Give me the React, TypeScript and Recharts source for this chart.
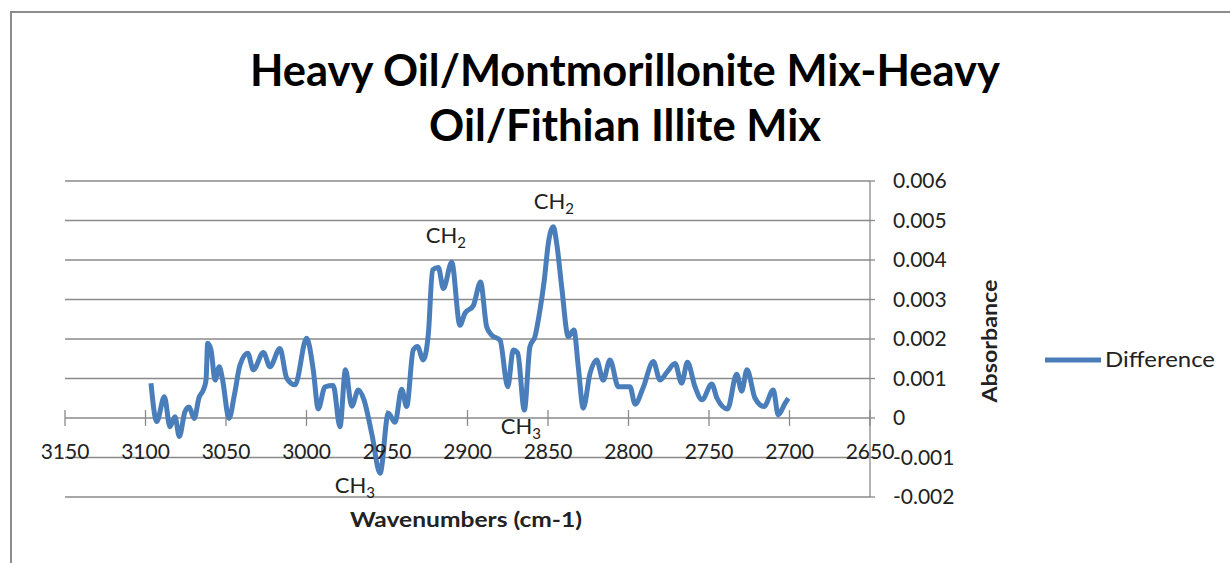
import React from "react";
import {
  LineChart,
  Line,
  XAxis,
  YAxis,
  CartesianGrid,
  ReferenceLine,
  ReferenceDot,
} from "recharts";

const wavenumbers = [
  3096.6, 3093.0, 3088.3, 3084.8, 3081.7, 3079.0, 3075.5, 3073.0, 3069.7, 3066.8,
  3064.1, 3062.4, 3061.4, 3059.3, 3056.8, 3054.2, 3052.3, 3048.1, 3044.8, 3041.3,
  3036.5, 3033.0, 3026.8, 3022.7, 3016.5, 3012.3, 3007.1, 2999.9, 2995.8, 2992.7,
  2988.5, 2983.4, 2979.2, 2975.8, 2971.9, 2967.8, 2964.3, 2959.3, 2954.3, 2949.2,
  2945.0, 2940.9, 2937.8, 2933.7, 2931.1, 2927.5, 2924.3, 2921.7, 2918.1, 2915.0,
  2909.8, 2904.7, 2901.6, 2896.4, 2891.9, 2888.1, 2885.0, 2879.8, 2875.0, 2871.6,
  2868.8, 2864.7, 2861.2, 2858.1, 2855.0, 2852.3, 2849.8, 2846.7, 2844.6, 2841.5,
  2837.4, 2833.9, 2831.2, 2828.1, 2823.9, 2819.8, 2815.7, 2811.5, 2806.3, 2799.1,
  2795.9, 2790.8, 2784.6, 2780.4, 2776.1, 2771.1, 2767.0, 2763.4, 2758.7, 2754.3,
  2748.3, 2745.0, 2738.5, 2732.8, 2729.7, 2726.4, 2721.4, 2715.8, 2710.1, 2707.0,
  2702.8, 2700.7,
];

const difference = [
  0.00088, -0.00009, 0.00054, -0.00022, 0.00003, -0.00047, 0.00016, 0.00028, -0.00001, 0.00051,
  0.00071, 0.00096, 0.00189, 0.00172, 0.00096, 0.0013, 0.00101, -0.00001, 0.00058, 0.00134,
  0.00164, 0.00122, 0.00166, 0.0013, 0.00176, 0.00101, 0.00084, 0.00202, 0.00122, 0.00023,
  0.00079, 0.00082, -0.00022, 0.00122, 0.0003, 0.00071, 0.00046, -0.00043, -0.0014, 0.00012,
  -0.00011, 0.00073, 0.00029, 0.00172, 0.00181, 0.00147, 0.00214, 0.00375, 0.00381, 0.00328,
  0.00394, 0.00235, 0.00265, 0.00284, 0.00344, 0.00231, 0.0021, 0.00197, 0.00079, 0.00172,
  0.00164, 0.0002, 0.00181, 0.00206, 0.00273, 0.00349, 0.00442, 0.00484, 0.00442, 0.00332,
  0.00206, 0.00223, 0.0013, 0.00025, 0.00113, 0.00147, 0.00096, 0.00147, 0.00079, 0.00079,
  0.00035, 0.00078, 0.00143, 0.00096, 0.00116, 0.00138, 0.00088, 0.00141, 0.00079, 0.00046,
  0.00086, 0.0005, 0.00023, 0.00111, 0.00068, 0.00122, 0.0005, 0.00029, 0.00071, 0.00008,
  0.00037, 0.0005,
];

const xTicks = [3150, 3100, 3050, 3000, 2950, 2900, 2850, 2800, 2750, 2700, 2650];
const yTicks = [-0.002, -0.001, 0, 0.001, 0.002, 0.003, 0.004, 0.005, 0.006];

const annotationLabels = ["CH", "CH", "CH", "CH"];
const annotationSubs = ["2", "2", "3", "3"];
const annotationX = [2913.4, 2846.3, 2866.8, 2969.9];
const annotationY = [0.00463, 0.00549, -0.0002, -0.0017];

const title1 = "Heavy Oil/Montmorillonite Mix-Heavy";
const title2 = "Oil/Fithian Illite Mix";
const xTitle = "Wavenumbers (cm-1)";
const yTitle = "Absorbance";
const seriesName = "Difference";

const data = wavenumbers.map((w, i) => ({ wn: w, diff: difference[i] }));

const FONT = "Lato, 'Noto Sans', sans-serif";
const GRID = "#8a8a8a";
const LINE = "#4a7ebb";

const XTick = (props: any) => {
  const { x, y, payload } = props;
  return (
    <text
      x={x}
      y={y - 53}
      dy="0.35em"
      textAnchor="middle"
      fontFamily={FONT}
      fontSize={21}
      fill="#222"
    >
      {payload.value}
    </text>
  );
};

const AnnLabel = (label: string, sub: string) => (props: any) => {
  const vb = props.viewBox || {};
  const cx = vb.x + (vb.width || 0) / 2;
  const cy = vb.y + (vb.height || 0) / 2;
  return (
    <text
      x={cx}
      y={cy}
      dy="0.35em"
      textAnchor="middle"
      fontFamily={FONT}
      fontSize={22}
      fill="#222"
    >
      <tspan>{label}</tspan>
      <tspan fontSize={15} dy="5">
        {sub}
      </tspan>
    </text>
  );
};

export default function App() {
  return (
    <div
      style={{
        position: "absolute",
        left: 0,
        top: 0,
        width: 1230,
        height: 563,
        background: "#fff",
        overflow: "hidden",
      }}
    >
      <div
        style={{
          position: "absolute",
          left: 10,
          top: 11,
          width: 1300,
          height: 700,
          borderLeft: "2px solid #8c8c8c",
          borderTop: "2px solid #8c8c8c",
        }}
      />
      <div style={{ position: "absolute", left: 0, top: 0 }}>
        <LineChart
          width={1230}
          height={563}
          data={data}
          margin={{ top: 181, right: 300, bottom: 36, left: 65 }}
        >
          <CartesianGrid vertical={false} stroke={GRID} strokeWidth={1.3} />
          <XAxis
            dataKey="wn"
            type="number"
            domain={[2650, 3150]}
            reversed
            ticks={xTicks}
            interval={0}
            axisLine={false}
            tickLine={false}
            height={30}
            tick={<XTick />}
          />
          <YAxis
            orientation="right"
            type="number"
            domain={[-0.002, 0.006]}
            ticks={yTicks}
            interval={0}
            width={60}
            axisLine={{ stroke: GRID, strokeWidth: 1.3 }}
            tickLine={{ stroke: GRID, strokeWidth: 1.3 }}
            tickSize={5}
            tickMargin={18}
            tick={{ fontFamily: FONT, fontSize: 21, fill: "#222", textAnchor: "start" }}
            tickFormatter={(v: number) => String(v)}
          />
          {xTicks.map((t) => (
            <ReferenceLine
              key={t}
              segment={[
                { x: t, y: -0.0002 },
                { x: t, y: 0.0002 },
              ]}
              stroke={GRID}
              strokeWidth={1.3}
            />
          ))}
          <Line
            type="monotone"
            dataKey="diff"
            stroke={LINE}
            strokeWidth={5}
            dot={false}
            isAnimationActive={false}
          />
          {annotationX.map((ax, i) => (
            <ReferenceDot
              key={i}
              x={ax}
              y={annotationY[i]}
              r={0}
              fill="none"
              stroke="none"
              label={AnnLabel(annotationLabels[i], annotationSubs[i])}
            />
          ))}
        </LineChart>
      </div>
      <svg
        width={1230}
        height={563}
        style={{ position: "absolute", left: 0, top: 0, pointerEvents: "none" }}
      >
        <text
          x={625}
          y={86}
          textAnchor="middle"
          fontFamily={FONT}
          fontWeight={700}
          fontSize={44}
          textLength={750}
          lengthAdjust="spacingAndGlyphs"
          fill="#000"
        >
          {title1}
        </text>
        <text
          x={625}
          y={141}
          textAnchor="middle"
          fontFamily={FONT}
          fontWeight={700}
          fontSize={44}
          textLength={392}
          lengthAdjust="spacingAndGlyphs"
          fill="#000"
        >
          {title2}
        </text>
        <text
          x={466}
          y={527}
          textAnchor="middle"
          fontFamily={FONT}
          fontWeight={700}
          fontSize={20}
          textLength={232}
          lengthAdjust="spacingAndGlyphs"
          fill="#222"
        >
          {xTitle}
        </text>
        <text
          x={0}
          y={0}
          transform="translate(997,341) rotate(-90)"
          textAnchor="middle"
          fontFamily={FONT}
          fontWeight={700}
          fontSize={20}
          textLength={123}
          lengthAdjust="spacingAndGlyphs"
          fill="#222"
        >
          {yTitle}
        </text>
        <line x1={1045} y1={360} x2={1101} y2={360} stroke={LINE} strokeWidth={5} />
        <text
          x={1105}
          y={360}
          dy="0.35em"
          fontFamily={FONT}
          fontSize={21}
          textLength={110}
          lengthAdjust="spacingAndGlyphs"
          fill="#222"
        >
          {seriesName}
        </text>
      </svg>
    </div>
  );
}
